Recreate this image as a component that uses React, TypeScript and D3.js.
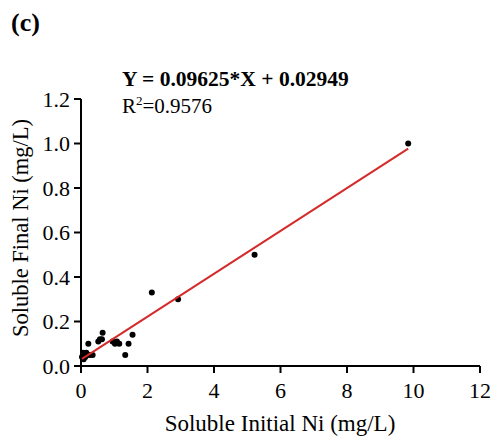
import React from "react";
import * as d3 from "d3";

const xValues = [0.03, 0.06, 0.08, 0.1, 0.13, 0.16, 0.2, 0.22, 0.27, 0.35, 0.52, 0.57, 0.63, 0.65, 0.95, 1.02, 1.08, 1.15, 1.33, 1.43, 1.55, 2.13, 2.92, 5.22, 9.84];
const yValues = [0.04, 0.06, 0.03, 0.05, 0.04, 0.06, 0.05, 0.1, 0.05, 0.05, 0.11, 0.12, 0.12, 0.15, 0.11, 0.1, 0.11, 0.1, 0.05, 0.1, 0.14, 0.33, 0.3, 0.5, 1.0];
const xTicks = [0, 2, 4, 6, 8, 10, 12];
const yTicks = [0, 0.2, 0.4, 0.6, 0.8, 1.0, 1.2];
const slope = 0.09625;
const intercept = 0.02949;
const equationLabel = "Y = 0.09625*X + 0.02949";
const r2Value = "=0.9576";
const panelLabel = "(c)";
const xTitle = "Soluble Initial Ni (mg/L)";
const yTitle = "Soluble Final Ni (mg/L)";

const FONT = "'Liberation Serif', 'Times New Roman', serif";

export default function App() {
  const x = d3.scaleLinear().domain([0, 12]).range([81, 480]);
  const y = d3.scaleLinear().domain([0, 1.2]).range([366, 99]);
  const xMin = d3.min(xValues) as number;
  const xMax = d3.max(xValues) as number;
  const line = d3
    .line<number>()
    .x((d) => x(d))
    .y((d) => y(slope * d + intercept));

  return (
    <svg
      width={496}
      height={440}
      style={{ position: "absolute", left: 0, top: 0, background: "#fff" }}
      fontFamily={FONT}
    >
      <text x={11} y={31} fontSize={26} fontWeight="bold">
        {panelLabel}
      </text>
      <text x={122} y={86} fontSize={21.5} fontWeight="bold">
        {equationLabel}
      </text>
      <text x={122} y={113} fontSize={21}>
        R<tspan dy={-8} fontSize={13}>2</tspan>
        <tspan dy={8}>{r2Value}</tspan>
      </text>

      {/* axes */}
      <g stroke="#000" strokeWidth={2} fill="none">
        <line x1={x(0)} x2={x(0)} y1={y(1.2)} y2={y(0) + 1} />
        <line x1={x(0) - 1} x2={x(12)} y1={y(0)} y2={y(0)} />
        {yTicks.map((t) => (
          <line key={"yt" + t} x1={x(0) - 7} x2={x(0)} y1={y(t)} y2={y(t)} />
        ))}
        {xTicks.map((t) => (
          <line key={"xt" + t} x1={x(t)} x2={x(t)} y1={y(0)} y2={y(0) + 7} />
        ))}
      </g>
      {yTicks.map((t) => (
        <text
          key={"yl" + t}
          x={x(0) - 11}
          y={y(t) + 7.5}
          fontSize={22}
          textAnchor="end"
        >
          {t.toFixed(1)}
        </text>
      ))}
      {xTicks.map((t) => (
        <text key={"xl" + t} x={x(t)} y={398} fontSize={22} textAnchor="middle">
          {t}
        </text>
      ))}
      <text x={280} y={431} fontSize={23} textAnchor="middle">
        {xTitle}
      </text>
      <text
        transform={`translate(28, 228) rotate(-90)`}
        fontSize={22.5}
        textAnchor="middle"
      >
        {yTitle}
      </text>

      {/* points */}
      {xValues.map((v, i) => (
        <circle key={"p" + i} cx={x(v)} cy={y(yValues[i])} r={3} fill="#000" />
      ))}
      {/* regression line */}
      <path d={line([xMin, xMax]) || ""} stroke="#d42a2a" strokeWidth={2} fill="none" />
    </svg>
  );
}
